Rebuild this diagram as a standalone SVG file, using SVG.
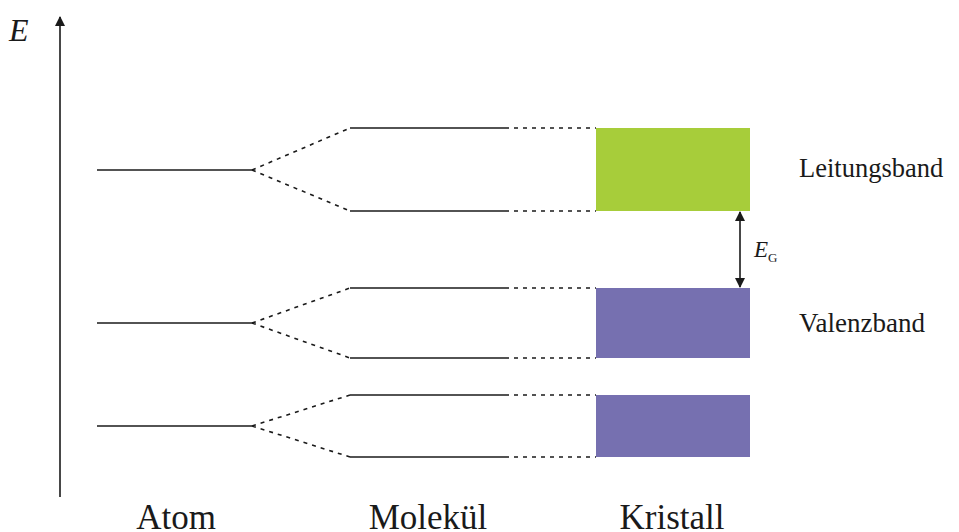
<svg xmlns="http://www.w3.org/2000/svg" width="959" height="532" viewBox="0 0 959 532">
<style>
.l{stroke:#1a1a1a;stroke-width:1.6;fill:none}
.d{stroke:#1a1a1a;stroke-width:1.6;fill:none;stroke-dasharray:4 5}
.t{font-family:"Liberation Serif","Times New Roman",serif;fill:#1a1a1a}
</style>
<defs>
<marker id="ah" viewBox="0 0 10 10" refX="9" refY="5" markerWidth="10" markerHeight="10" markerUnits="userSpaceOnUse" orient="auto-start-reverse">
<path d="M0,0 L10,5 L0,10 z" fill="#1a1a1a"/>
</marker>
</defs>
<g id="axis">
<line class="l" x1="60" y1="497" x2="60" y2="17" marker-end="url(#ah)"/>
<text class="t" x="9" y="41" font-size="32" font-style="italic">E</text>
</g>
<g id="atom">
<line class="l" x1="97" y1="170" x2="252" y2="170"/>
<line class="l" x1="97" y1="323" x2="252" y2="323"/>
<line class="l" x1="97" y1="426" x2="252" y2="426"/>
</g>
<g id="molekuel">
<line class="l" x1="350" y1="128" x2="505" y2="128"/>
<line class="l" x1="350" y1="211" x2="505" y2="211"/>
<line class="l" x1="350" y1="288" x2="505" y2="288"/>
<line class="l" x1="350" y1="358" x2="505" y2="358"/>
<line class="l" x1="350" y1="395" x2="505" y2="395"/>
<line class="l" x1="350" y1="457" x2="505" y2="457"/>
</g>
<g id="kristall">
<rect x="596" y="128" width="154" height="83" fill="#a7cd3a"/>
<rect x="596" y="288" width="154" height="70" fill="#7670b0"/>
<rect x="596" y="395" width="154" height="62" fill="#7670b0"/>
</g>
<g id="connectors">
<path class="d" d="M252,170 L350,128 M252,170 L350,211 M252,323 L350,288 M252,323 L350,358 M252,426 L350,395 M252,426 L350,457"/>
<path class="d" d="M505,128 L596,128 M505,211 L596,211 M505,288 L596,288 M505,358 L596,358 M505,395 L596,395 M505,457 L596,457"/>
<line class="l" x1="740" y1="212" x2="740" y2="287" marker-start="url(#ah)" marker-end="url(#ah)"/>
</g>
<g id="labels">
<text class="t" x="754" y="257" font-size="23" font-style="italic">E<tspan font-size="13" font-style="normal" dy="5">G</tspan></text>
<text class="t" x="799" y="177" font-size="26.5">Leitungsband</text>
<text class="t" x="799" y="332" font-size="27">Valenzband</text>
<text class="t" x="176" y="529" font-size="35" text-anchor="middle">Atom</text>
<text class="t" x="428" y="529" font-size="35" text-anchor="middle">Molekül</text>
<text class="t" x="672" y="529" font-size="35" text-anchor="middle">Kristall</text>
</g>
</svg>
